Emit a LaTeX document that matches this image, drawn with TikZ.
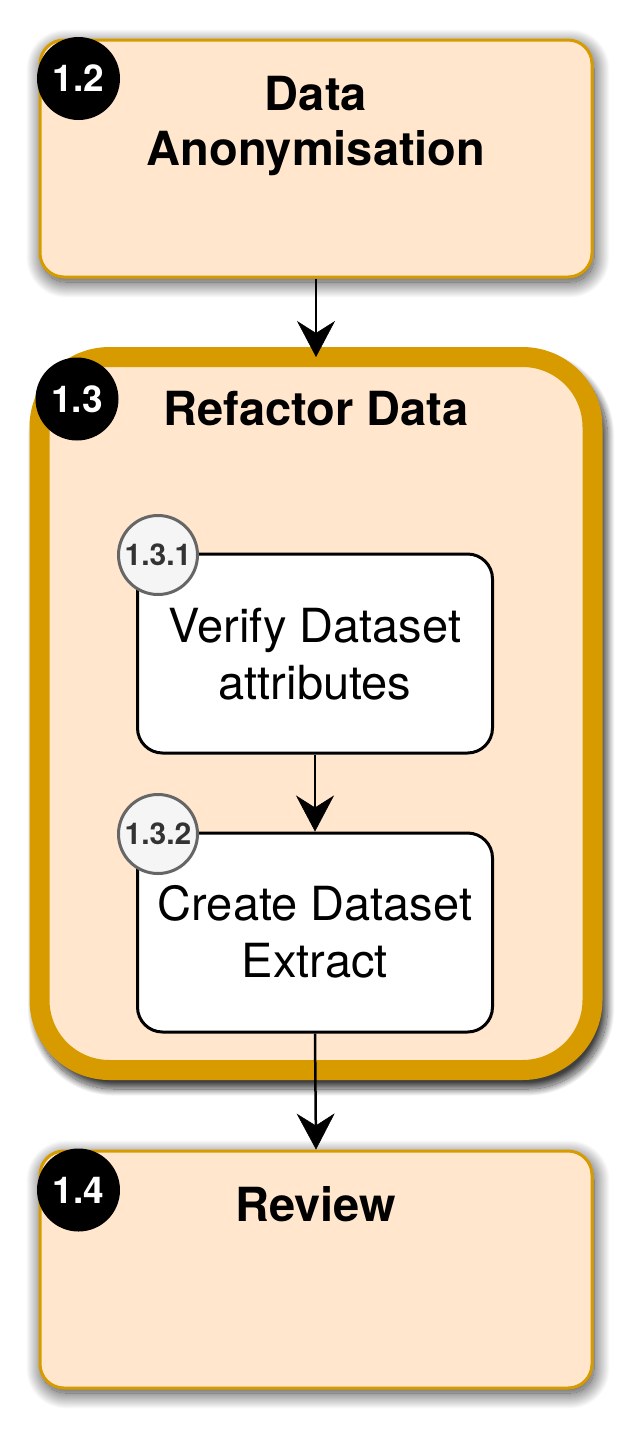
\documentclass[tikz,border=0pt]{standalone}
\usepackage{fontspec}
\setmainfont{TeX Gyre Heros}
\usetikzlibrary{arrows.meta,shadows.blur}
\definecolor{boxfill}{HTML}{FFE6CC}
\definecolor{boxline}{HTML}{D79B00}
\definecolor{badgegray}{HTML}{F5F5F5}
\definecolor{badgeline}{HTML}{666666}
\definecolor{badgetext}{HTML}{333333}
\begin{document}
\begin{tikzpicture}[x=1pt,y=-1pt,
  stage/.style={draw=boxline, fill=boxfill, line width=3pt, rounded corners=24pt,
    minimum width=552pt, minimum height=237pt, inner sep=0pt,
    blur shadow={shadow xshift=2pt, shadow yshift=-5pt, shadow blur radius=16pt,
      shadow blur steps=40, shadow opacity=80}},
  bigstage/.style={draw=boxline, fill=boxfill, line width=20pt, rounded corners=70pt,
    minimum width=553pt, minimum height=713pt, inner sep=0pt, outer sep=0pt},
  task/.style={draw=black, fill=white, line width=3pt, rounded corners=25pt,
    minimum width=355pt, minimum height=199pt, inner sep=0pt},
  badge/.style={circle, fill=black, minimum size=83pt, inner sep=0pt, text=white,
    font=\fontsize{37}{37}\bfseries\selectfont},
  subbadge/.style={circle, fill=badgegray, draw=badgeline, line width=3pt, minimum size=79pt,
    inner sep=0pt, text=badgetext, font=\fontsize{30}{30}\bfseries\selectfont},
  title/.style={font=\fontsize{47}{55}\bfseries\selectfont, align=center, inner sep=0pt},
  tasktext/.style={font=\fontsize{47}{57}\selectfont, align=center, inner sep=0pt},
  flow/.style={draw=black, line width=2.5pt,
    -{Stealth[length=36pt 0 0, width=38pt 0 0, inset=12pt 0 0, fill=black, line width=0.5pt]}}
]
\useasboundingbox (0,0) rectangle (641,1433);

% stage boxes
\node[stage] (b12) at (316,158.5) {};
\path[rounded corners=80pt, blur shadow={shadow xshift=5pt, shadow yshift=-9pt, shadow blur radius=7pt, shadow blur steps=30, shadow opacity=75}] (29.5,347) rectangle (602.5,1080);
\node[bigstage] (b13) at (316,713.5) {};
\node[stage] (b14) at (316,1269.5) {};

% task boxes
\node[task] (t1) at (315,653.5) {};
\node[task] (t2) at (315,932.5) {};

% texts
\node[title, anchor=north] (l12) at (316,76.5) {Data\\Anonymisation};
\node[title, anchor=base] (l13) at (316,425) {Refactor Data};
\node[title, anchor=base] (l14) at (316,1221) {Review};
\node[tasktext, anchor=north] (l131) at (315,608) {Verify Dataset\\attributes};
\node[tasktext, anchor=north] (l132) at (315,885) {Create Dataset\\Extract};

% badges
\node[badge] (n12) at (78.5,78.5) {1.2};
\node[badge] (n13) at (77,399) {1.3};
\node[badge] (n14) at (78.5,1190) {1.4};
\node[subbadge] (n131) at (158,555) {1.3.1};
\node[subbadge] (n132) at (158,834) {1.3.2};

% connectors
\draw[flow] (b12.south) -- (b13.north);
\draw[flow] (t1.south) -- (t2.north);
\draw[flow] (t2.south) -- (b14.north);
\end{tikzpicture}
\end{document}
